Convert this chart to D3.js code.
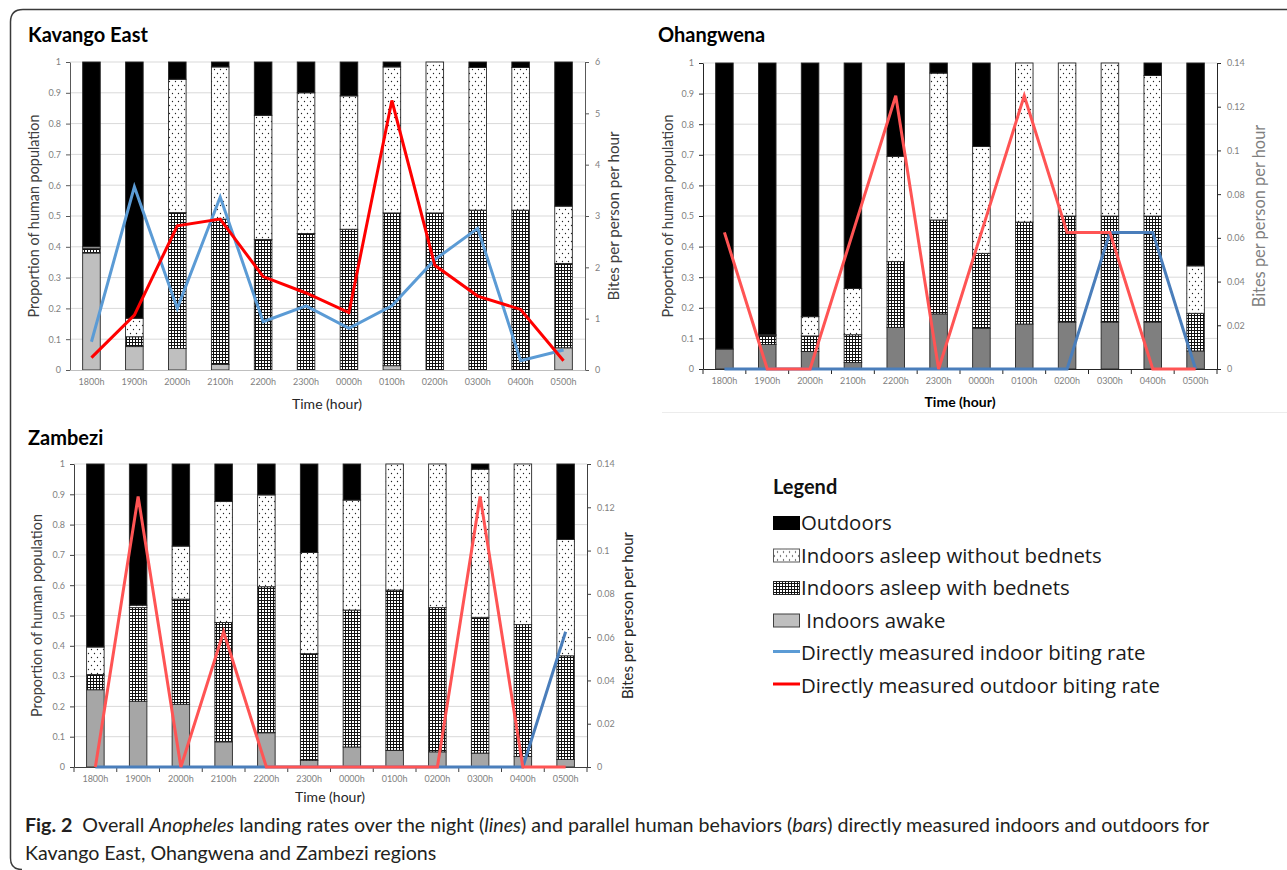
<!DOCTYPE html>
<html>
<head>
<meta charset="utf-8">
<script src="https://cdn.jsdelivr.net/npm/d3@7"></script>
<style>
  body { margin: 0; background: #fff; }
  svg { display: block; }
</style>
</head>
<body>
<svg id="chart" width="1287" height="870"></svg>
<script>
const hours = ['1800h', '1900h', '2000h', '2100h', '2200h', '2300h', '0000h', '0100h', '0200h', '0300h', '0400h', '0500h'];
const propTicks = [0, 0.1, 0.2, 0.3, 0.4, 0.5, 0.6, 0.7, 0.8, 0.9, 1];
const kavangoBiteTicks = [0, 1, 2, 3, 4, 5, 6];
const smallBiteTicks = [0, 0.02, 0.04, 0.06, 0.08, 0.1, 0.12, 0.14];

// Kavango East - share of people in each behaviour (bottom to top)
const kavangoAwake    = [0.38, 0.076, 0.07, 0.018, 0, 0, 0, 0.014, 0, 0, 0, 0.072];
const kavangoNet      = [0.015, 0.032, 0.441, 0.472, 0.424, 0.443, 0.457, 0.496, 0.51, 0.519, 0.519, 0.274];
const kavangoNoNet    = [0.005, 0.06, 0.433, 0.494, 0.403, 0.457, 0.433, 0.474, 0.49, 0.463, 0.463, 0.186];
const kavangoOutdoors = [0.60, 0.832, 0.056, 0.016, 0.173, 0.10, 0.11, 0.016, 0, 0.018, 0.018, 0.468];
const kavangoIndoorBites  = [0.55, 3.57, 1.20, 3.37, 0.94, 1.25, 0.81, 1.25, 2.15, 2.76, 0.18, 0.39];
const kavangoOutdoorBites = [0.24, 1.07, 2.81, 2.94, 1.82, 1.50, 1.12, 5.25, 2.04, 1.44, 1.18, 0.18];

// Ohangwena
const ohangAwake    = [0.065, 0.08, 0.057, 0.021, 0.136, 0.18, 0.133, 0.147, 0.153, 0.153, 0.153, 0.059];
const ohangNet      = [0, 0.029, 0.051, 0.091, 0.215, 0.307, 0.245, 0.333, 0.347, 0.347, 0.347, 0.123];
const ohangNoNet    = [0, 0.003, 0.063, 0.151, 0.344, 0.48, 0.349, 0.52, 0.50, 0.50, 0.459, 0.155];
const ohangOutdoors = [0.935, 0.888, 0.829, 0.737, 0.305, 0.033, 0.273, 0, 0, 0, 0.041, 0.663];
const ohangIndoorBites  = [0, 0, 0, 0, 0, 0, 0, 0, 0, 0.0625, 0.0625, 0];
const ohangOutdoorBites = [0.0625, 0, 0, 0.0625, 0.125, 0, 0.0625, 0.125, 0.0625, 0.0625, 0, 0];

// Zambezi
const zambAwake    = [0.255, 0.217, 0.207, 0.083, 0.113, 0.022, 0.066, 0.055, 0.05, 0.046, 0.035, 0.025];
const zambNet      = [0.05, 0.309, 0.347, 0.394, 0.482, 0.352, 0.452, 0.529, 0.476, 0.448, 0.435, 0.342];
const zambNoNet    = [0.091, 0.008, 0.175, 0.399, 0.303, 0.334, 0.363, 0.416, 0.474, 0.489, 0.53, 0.384];
const zambOutdoors = [0.604, 0.466, 0.271, 0.124, 0.102, 0.292, 0.119, 0, 0, 0.017, 0, 0.249];
const zambIndoorBites  = [0, 0, 0, 0, 0, 0, 0, 0, 0, 0, 0, 0.0625];
const zambOutdoorBites = [0, 0.125, 0, 0.0625, 0, 0, 0, 0, 0, 0.125, 0, 0];

const legendLabels = ['Outdoors', 'Indoors asleep without bednets', 'Indoors asleep with bednets', ' Indoors awake',
    'Directly measured indoor biting rate', 'Directly measured outdoor biting rate'];

const FONT = 'Lato, "Open Sans", sans-serif';
const layerKeys = ['awake', 'net', 'noNet', 'outdoors'];

const svg = d3.select('#chart');
const defs = svg.append('defs');

// sparse dots = asleep without nets
const dots = defs.append('pattern')
    .attr('id', 'dots').attr('patternUnits', 'userSpaceOnUse')
    .attr('width', 6).attr('height', 8);
dots.append('rect').attr('width', 6).attr('height', 8).attr('fill', '#fff');
dots.append('circle').attr('cx', 1.5).attr('cy', 1.5).attr('r', 0.65).attr('fill', '#222');
dots.append('circle').attr('cx', 4.5).attr('cy', 5.5).attr('r', 0.65).attr('fill', '#222');

// fine grid = asleep under nets
const grid = defs.append('pattern')
    .attr('id', 'grid').attr('patternUnits', 'userSpaceOnUse')
    .attr('width', 3).attr('height', 3);
grid.append('rect').attr('width', 3).attr('height', 3).attr('fill', '#fff');
grid.append('path').attr('d', 'M0 0.5H3M0.5 0V3').attr('stroke', '#111').attr('stroke-width', 1);

const layerFill = {net: 'url(#grid)', noNet: 'url(#dots)', outdoors: '#000'};

const drawPanel = (p) => {
    const g = svg.append('g').attr('class', 'panel');

    const x = d3.scaleBand().domain(hours).range([p.left, p.right])
        .paddingInner(0.59).paddingOuter(0.295);
    const y = d3.scaleLinear().domain([0, 1]).range([p.bottom, p.top]);
    const yBites = d3.scaleLinear().domain([0, d3.max(p.biteTicks)]).range([p.bottom, p.top]);

    g.append('g').selectAll('line')
        .data(propTicks.filter(d => d > 0))
        .enter().append('line')
            .attr('x1', p.left).attr('x2', p.right)
            .attr('y1', d => y(d)).attr('y2', d => y(d))
            .attr('stroke', '#d9d9d9');

    const rows = hours.map((h, i) => ({
        hour: h, awake: p.awake[i], net: p.net[i], noNet: p.noNet[i], outdoors: p.outdoors[i]
    }));
    const stacked = d3.stack().keys(layerKeys)(rows);

    g.append('g').selectAll('g')
        .data(stacked)
        .enter().append('g')
            .attr('fill', d => d.key === 'awake' ? p.awakeColor : layerFill[d.key])
        .selectAll('rect')
        .data(d => d.filter(s => s[1] - s[0] > 0.0001))
        .enter().append('rect')
            .attr('x', d => x(d.data.hour))
            .attr('y', d => y(d[1]))
            .attr('width', x.bandwidth())
            .attr('height', d => y(d[0]) - y(d[1]))
            .attr('stroke', '#262626')
            .attr('stroke-width', 0.9);

    // axes
    const styleAxis = (a, color) => {
        a.selectAll('.domain, .tick line').attr('stroke', color);
        a.selectAll('text')
            .attr('fill', '#7f7f7f')
            .style('font-family', FONT)
            .style('font-size', '9px');
    };

    const leftAxis = g.append('g')
        .attr('transform', 'translate(' + p.left + ',0)')
        .call(d3.axisLeft(y).tickValues(propTicks).tickSize(4).tickSizeOuter(0).tickPadding(5).tickFormat(d3.format('~g')));
    styleAxis(leftAxis, p.axisColor);

    const rightAxis = g.append('g')
        .attr('transform', 'translate(' + p.right + ',0)')
        .call(d3.axisRight(yBites).tickValues(p.biteTicks).tickSize(4).tickSizeOuter(0).tickPadding(6).tickFormat(d3.format('~g')));
    styleAxis(rightAxis, p.axisColor);

    const xAxis = g.append('g')
        .attr('transform', 'translate(0,' + p.bottom + ')')
        .call(d3.axisBottom(x).tickSize(0).tickPadding(9));
    styleAxis(xAxis, p.xAxisColor);

    if (p.edgeTicks) {
        const edges = hours.map(h => x(h) - x.step() * x.paddingInner() / 2).concat([p.right]);
        xAxis.selectAll('line.edge')
            .data(edges)
            .enter().append('line')
                .attr('class', 'edge')
                .attr('x1', d => d).attr('x2', d => d)
                .attr('y1', 0).attr('y2', 5)
                .attr('stroke', p.xAxisColor);
    }

    // biting rate lines
    const line = d3.line()
        .x((d, i) => x(hours[i]) + x.bandwidth() / 2)
        .y(d => yBites(d));

    g.append('path').datum(p.indoorBites)
        .attr('d', line).attr('fill', 'none')
        .attr('stroke', p.blue).attr('stroke-width', 3);
    g.append('path').datum(p.outdoorBites)
        .attr('d', line).attr('fill', 'none')
        .attr('stroke', p.red).attr('stroke-width', 3);

    // titles
    g.append('text')
        .attr('x', p.titleX).attr('y', p.titleY)
        .style('font-family', FONT).style('font-size', '20px').style('font-weight', 'bold')
        .attr('fill', '#000')
        .text(p.name);

    g.append('text')
        .attr('transform', 'translate(' + p.yTitleX + ',' + (p.top + p.bottom) / 2 + ') rotate(-90)')
        .attr('text-anchor', 'middle')
        .style('font-family', FONT).style('font-size', '14.4px')
        .attr('fill', '#404040')
        .text('Proportion of human population');

    g.append('text')
        .attr('transform', 'translate(' + p.rTitleX + ',' + (p.top + p.bottom) / 2 + ') rotate(-90)')
        .attr('text-anchor', 'middle')
        .style('font-family', FONT).style('font-size', p.rTitleSize + 'px')
        .attr('fill', p.rTitleColor)
        .text('Bites per person per hour');

    g.append('text')
        .attr('x', p.timeX).attr('y', p.timeY)
        .attr('text-anchor', 'middle')
        .style('font-family', FONT).style('font-size', '14px')
        .style('font-weight', p.timeBold ? 'bold' : 'normal')
        .attr('fill', p.timeBold ? '#000' : '#262626')
        .text('Time (hour)');
};

// outer frame
svg.append('path')
    .attr('d', 'M22 869.5Q10.5 869.5 10.5 858L10.5 22Q10.5 9.5 23 9.5L1287 9.5')
    .attr('fill', 'none').attr('stroke', '#3a3a3a').attr('stroke-width', 1.5);

// faint edge under the Ohangwena panel
svg.append('line')
    .attr('x1', 662).attr('x2', 1287).attr('y1', 412.5).attr('y2', 412.5)
    .attr('stroke', '#ececec');

drawPanel({
    name: 'Kavango East', titleX: 28, titleY: 42,
    left: 70, right: 585, top: 62, bottom: 370,
    awake: kavangoAwake, net: kavangoNet, noNet: kavangoNoNet, outdoors: kavangoOutdoors,
    indoorBites: kavangoIndoorBites, outdoorBites: kavangoOutdoorBites, biteTicks: kavangoBiteTicks,
    awakeColor: '#bfbfbf', blue: '#5b9bd5', red: '#ff0000',
    axisColor: '#595959', xAxisColor: '#bfbfbf', edgeTicks: false,
    yTitleX: 39, rTitleX: 619, rTitleSize: 15.2, rTitleColor: '#404040',
    timeX: 327, timeY: 409, timeBold: false
});

drawPanel({
    name: 'Ohangwena', titleX: 658, titleY: 42,
    left: 703, right: 1217, top: 63, bottom: 369,
    awake: ohangAwake, net: ohangNet, noNet: ohangNoNet, outdoors: ohangOutdoors,
    indoorBites: ohangIndoorBites, outdoorBites: ohangOutdoorBites, biteTicks: smallBiteTicks,
    awakeColor: '#7f7f7f', blue: '#4a7ebb', red: '#ff5454',
    axisColor: '#262626', xAxisColor: '#262626', edgeTicks: true,
    yTitleX: 673, rTitleX: 1265, rTitleSize: 16.4, rTitleColor: '#7f7f7f',
    timeX: 960, timeY: 407, timeBold: true
});

drawPanel({
    name: 'Zambezi', titleX: 28, titleY: 445,
    left: 74, right: 587, top: 464, bottom: 767,
    awake: zambAwake, net: zambNet, noNet: zambNoNet, outdoors: zambOutdoors,
    indoorBites: zambIndoorBites, outdoorBites: zambOutdoorBites, biteTicks: smallBiteTicks,
    awakeColor: '#a6a6a6', blue: '#4a7ebb', red: '#ff5454',
    axisColor: '#404040', xAxisColor: '#404040', edgeTicks: true,
    yTitleX: 42, rTitleX: 633, rTitleSize: 15, rTitleColor: '#262626',
    timeX: 330, timeY: 802, timeBold: false
});

// legend
const legend = svg.append('g').attr('class', 'legend');
legend.append('text')
    .attr('x', 773).attr('y', 494)
    .style('font-family', FONT).style('font-size', '20px').style('font-weight', 'bold')
    .attr('fill', '#111')
    .text('Legend');

const swatches = [
    {fill: '#000', stroke: '#000'},
    {fill: 'url(#dots)', stroke: '#595959'},
    {fill: 'url(#grid)', stroke: '#262626'},
    {fill: '#bfbfbf', stroke: '#404040'},
    {line: '#5b9bd5'},
    {line: '#ff0000'}
];

const items = legend.selectAll('g.item')
    .data(legendLabels)
    .enter().append('g')
        .attr('class', 'item')
        .attr('transform', (d, i) => 'translate(773,' + (530 + i * 32.5) + ')');

items.each(function(d, i) {
    const s = swatches[i];
    const it = d3.select(this);
    if (s.line) {
        it.append('line')
            .attr('x1', 0).attr('x2', 27).attr('y1', -8.5).attr('y2', -8.5)
            .attr('stroke', s.line).attr('stroke-width', 3);
    } else {
        it.append('rect')
            .attr('x', 0.5).attr('y', -13.5).attr('width', 26).attr('height', 13)
            .attr('fill', s.fill).attr('stroke', s.stroke);
    }
});

items.append('text')
    .attr('x', 28).attr('y', 0)
    .style('font-family', '"Open Sans", Lato, sans-serif').style('font-size', '20.4px').style('white-space', 'pre')
    .attr('fill', '#1a1a1a')
    .text(d => d);

// caption
const caption = svg.append('g').attr('class', 'caption')
    .style('font-family', FONT).attr('fill', '#231f20');
const cap1 = caption.append('text').attr('x', 25).attr('y', 832).style('white-space', 'pre');
const parts = [
    ['Fig. 2', 'bold', 'normal'],
    ['  Overall ', 'normal', 'normal'],
    ['Anopheles', 'normal', 'italic'],
    [' landing rates over the night (', 'normal', 'normal'],
    ['lines', 'normal', 'italic'],
    [') and parallel human behaviors (', 'normal', 'normal'],
    ['bars', 'normal', 'italic'],
    [') directly measured indoors and outdoors for', 'normal', 'normal']
];
parts.forEach(([t, w, st]) => {
    cap1.append('tspan').style('font-weight', w).style('font-style', st).text(t);
});
const cap2 = caption.append('text').attr('x', 25).attr('y', 860)
    .text('Kavango East, Ohangwena and Zambezi regions');

caption.selectAll('text').style('font-size', '17.5px');
const wide = cap1.node().getComputedTextLength();
if (wide > 0) {
    caption.selectAll('text').style('font-size', (17.5 * 1185 / wide) + 'px');
}
</script>
</body>
</html>
